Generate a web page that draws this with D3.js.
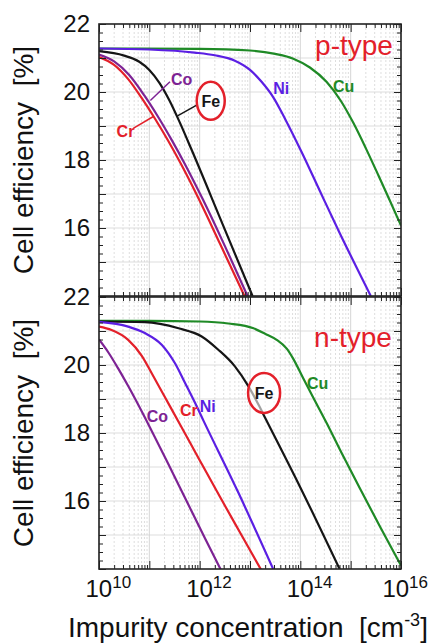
<!DOCTYPE html>
<html>
<head>
<meta charset="utf-8">
<script src="https://cdn.jsdelivr.net/npm/d3@7"></script>
<style>
  body { margin: 0; background: #fff; }
  text { font-family: "Liberation Sans", Arial, sans-serif; }
</style>
</head>
<body>
<div id="chart"></div>
<script>
// curve data: [log10 impurity concentration, cell efficiency %]
var pCr = [[10,21.03],[10.3,20.8],[10.58,20.38],[10.85,19.82],[11.11,19.22],[11.38,18.55],[11.64,17.85],[12.0,16.8],[12.4,15.55],[12.89,14.0]];
var pCo = [[10,21.1],[10.3,20.9],[10.6,20.5],[10.9,19.9],[11.17,19.28],[11.44,18.6],[11.7,17.9],[12.06,16.85],[12.46,15.6],[12.95,14.0]];
var pFe = [[10,21.2],[10.5,21.07],[10.8,20.89],[11.0,20.65],[11.2,20.27],[11.4,19.75],[11.6,19.12],[11.84,18.3],[12.42,16.24],[13.05,14.0]];
var pNi = [[10,21.28],[11,21.25],[11.9,21.16],[12.3,21.08],[12.7,20.92],[13.0,20.65],[13.23,20.3],[13.46,19.85],[13.7,19.2],[14.03,18.22],[14.4,17.05],[14.76,15.92],[15.4,14.0]];
var pCu = [[10,21.28],[12,21.27],[13,21.22],[13.5,21.12],[13.86,20.98],[14.19,20.72],[14.52,20.3],[14.8,19.75],[15.05,19.1],[15.3,18.35],[15.55,17.55],[15.78,16.8],[16,16.07]];

var nCo = [[10,20.75],[10.19,20.36],[10.38,19.9],[10.58,19.38],[10.78,18.83],[11.0,18.2],[11.35,17.17],[11.74,16.0],[12.1,14.92],[12.44,13.92]];
var nCr = [[10,21.13],[10.25,21.03],[10.58,20.74],[10.85,20.27],[11.05,19.75],[11.3,19.08],[11.61,18.25],[12.0,17.2],[12.4,16.13],[12.83,15.0],[13.25,13.9]];
var nNi = [[10,21.27],[10.58,21.13],[10.91,20.94],[11.25,20.59],[11.51,20.05],[11.71,19.47],[11.91,18.88],[12.08,18.35],[12.77,16.24],[13.46,14.0]];
var nFe = [[10,21.28],[10.91,21.26],[11.58,21.08],[12.04,20.84],[12.37,20.45],[12.7,19.96],[12.97,19.37],[13.17,18.83],[13.3,18.45],[14.0,16.4],[14.78,14.0]];
var nCu = [[10,21.3],[11,21.3],[12,21.28],[12.57,21.22],[13.07,21.08],[13.3,20.92],[13.53,20.74],[13.73,20.48],[13.86,20.18],[14.06,19.6],[14.3,18.92],[14.52,18.3],[14.79,17.5],[15.19,16.35],[15.6,15.2],[16,14.1]];

var xTickExps = [10, 12, 14, 16];
var yTickLabels = [16, 18, 20, 22];
var yDomain = [14, 22];
var panelNames = ["p-type", "n-type"];

// colours
var red = "#e3202a", coColor = "#7d2394", niColor = "#5b1fe3", cuColor = "#1f8a26", feColor = "#151515";

var width = 431, height = 643;
var plotLeft = 99, plotRight = 401;

var svg = d3.select("#chart")
  .append("svg")
    .attr("width", width)
    .attr("height", height);

var x = d3.scaleLog().domain([1e10, 1e16]).range([plotLeft, plotRight]);
function isDecade(d) { var l = Math.log10(d); return Math.abs(l - Math.round(l)) < 1e-6; }

var panels = [
  { name: panelNames[0], top: 24, bottom: 296, tag: [15.84, 21.09],
    series: [[pCu, cuColor], [pNi, niColor], [pFe, feColor], [pCo, coColor], [pCr, red]],
    labels: [["Co", 11.43, 20.21, coColor], ["Cr", 10.35, 18.68, red], ["Ni", 13.46, 19.94, niColor], ["Cu", 14.65, 20.0, cuColor]],
    fe: [12.22, 19.74, 14, 19],
    leaders: [[[11.02, 19.75], [11.41, 20.3], coColor], [[11.56, 19.3], [11.95, 19.62], feColor], [[10.68, 18.93], [11.08, 19.28], red]] },
  { name: panelNames[1], top: 297, bottom: 569, tag: [15.82, 20.54],
    series: [[nCu, cuColor], [nFe, feColor], [nNi, niColor], [nCr, red], [nCo, coColor]],
    labels: [["Co", 10.95, 18.33, coColor], ["Cr", 11.61, 18.51, red], ["Ni", 12.0, 18.63, niColor], ["Cu", 14.13, 19.3, cuColor]],
    fe: [13.28, 19.18, 16, 20],
    leaders: [] }
];

panels.forEach(function (p, i) {
  var y = d3.scaleLinear().domain(yDomain).range([p.bottom, p.top]);
  var g = svg.append("g");

  // grid
  g.append("g").selectAll("line")
    .data(x.ticks())
    .enter().append("line")
      .attr("x1", function (d) { return x(d); })
      .attr("x2", function (d) { return x(d); })
      .attr("y1", p.top).attr("y2", p.bottom)
      .attr("stroke", function (d) { return isDecade(d) ? "#cccccc" : "#d6d6d6"; })
      .attr("stroke-width", 0.8)
      .attr("stroke-dasharray", function (d) { return isDecade(d) ? null : "2,2"; });
  g.append("g").selectAll("line")
    .data(d3.range(15, 22, 1))
    .enter().append("line")
      .attr("x1", plotLeft).attr("x2", plotRight)
      .attr("y1", function (d) { return y(d); })
      .attr("y2", function (d) { return y(d); })
      .attr("stroke", "#d4d4d4")
      .attr("stroke-width", 0.8);

  // curves
  var clipId = "clip" + i;
  svg.append("clipPath").attr("id", clipId)
    .append("rect").attr("x", plotLeft).attr("y", p.top)
    .attr("width", plotRight - plotLeft).attr("height", p.bottom - p.top);
  var line = d3.line()
    .x(function (d) { return x(Math.pow(10, d[0])); })
    .y(function (d) { return y(d[1]); })
    .curve(d3.curveMonotoneX);
  g.append("g").attr("clip-path", "url(#" + clipId + ")")
    .selectAll("path")
    .data(p.series)
    .enter().append("path")
      .attr("d", function (d) { return line(d[0]); })
      .attr("fill", "none")
      .attr("stroke", function (d) { return d[1]; })
      .attr("stroke-width", 2.2);

  // ticks, all pointing inward
  var minorX = x.ticks().filter(function (d) { return !isDecade(d); });
  var majorX = x.ticks().filter(isDecade);
  function tickAxis(axis, transform) {
    var a = g.append("g").attr("transform", transform).call(axis);
    a.select(".domain").remove();
    a.selectAll("line").attr("stroke", "#222").attr("stroke-width", 1);
    return a;
  }
  tickAxis(d3.axisBottom(x).tickValues(majorX).tickSize(-8).tickFormat(""), "translate(0," + p.bottom + ")");
  tickAxis(d3.axisBottom(x).tickValues(minorX).tickSize(-4).tickFormat(""), "translate(0," + p.bottom + ")");
  tickAxis(d3.axisTop(x).tickValues(majorX).tickSize(-8).tickFormat(""), "translate(0," + p.top + ")");
  tickAxis(d3.axisTop(x).tickValues(minorX).tickSize(-4).tickFormat(""), "translate(0," + p.top + ")");
  tickAxis(d3.axisLeft(y).tickValues(d3.range(14, 22.01, 1)).tickSize(-7).tickFormat(""), "translate(" + plotLeft + ",0)");
  tickAxis(d3.axisLeft(y).tickValues(d3.range(14, 22.01, 0.25)).tickSize(-4).tickFormat(""), "translate(" + plotLeft + ",0)");
  tickAxis(d3.axisRight(y).tickValues(d3.range(14, 22.01, 1)).tickSize(-7).tickFormat(""), "translate(" + plotRight + ",0)");
  tickAxis(d3.axisRight(y).tickValues(d3.range(14, 22.01, 0.25)).tickSize(-4).tickFormat(""), "translate(" + plotRight + ",0)");

  // y tick labels
  var yl = g.append("g").attr("transform", "translate(" + plotLeft + ",0)")
    .call(d3.axisLeft(y).tickValues(yTickLabels).tickSize(0).tickPadding(9).tickFormat(d3.format("d")));
  yl.select(".domain").remove();
  yl.selectAll("text").attr("font-size", 24).attr("fill", "#111")
    .style("font-family", "'Liberation Sans', Arial, sans-serif");

  // frame
  g.append("rect")
    .attr("x", plotLeft).attr("y", p.top)
    .attr("width", plotRight - plotLeft).attr("height", p.bottom - p.top)
    .attr("fill", "none").attr("stroke", "#222").attr("stroke-width", 1.6);

  // y title
  g.append("text")
    .attr("transform", "translate(33," + ((p.top + p.bottom) / 2) + ") rotate(-90)")
    .attr("text-anchor", "middle")
    .attr("font-size", 28)
    .attr("fill", "#111")
    .text("Cell efficiency \u00a0[%]");

  // panel tag
  g.append("text")
    .attr("x", x(Math.pow(10, p.tag[0]))).attr("y", y(p.tag[1]))
    .attr("text-anchor", "end")
    .attr("font-size", 28)
    .attr("fill", red)
    .text(p.name);

  // leader lines
  g.selectAll(".leader")
    .data(p.leaders)
    .enter().append("line")
      .attr("x1", function (d) { return x(Math.pow(10, d[0][0])); })
      .attr("y1", function (d) { return y(d[0][1]); })
      .attr("x2", function (d) { return x(Math.pow(10, d[1][0])); })
      .attr("y2", function (d) { return y(d[1][1]); })
      .attr("stroke", function (d) { return d[2]; })
      .attr("stroke-width", 1.5);

  // series labels
  g.selectAll(".lbl")
    .data(p.labels)
    .enter().append("text")
      .attr("x", function (d) { return x(Math.pow(10, d[1])); })
      .attr("y", function (d) { return y(d[2]); })
      .attr("font-size", 16)
      .attr("font-weight", "bold")
      .attr("fill", function (d) { return d[3]; })
      .text(function (d) { return d[0]; });

  // Fe in a red ellipse
  var fx = x(Math.pow(10, p.fe[0])), fy = y(p.fe[1]);
  g.append("ellipse")
    .attr("cx", fx).attr("cy", fy).attr("rx", p.fe[2]).attr("ry", p.fe[3])
    .attr("fill", "#fff").attr("fill-opacity", 0.6)
    .attr("stroke", red).attr("stroke-width", 2.5);
  g.append("text")
    .attr("x", fx).attr("y", fy + 6)
    .attr("text-anchor", "middle")
    .attr("font-size", 16)
    .attr("font-weight", "bold")
    .attr("fill", feColor)
    .text("Fe");
});

// x tick labels under the lower panel
xTickExps.forEach(function (e) {
  var t = svg.append("text")
    .attr("y", 597)
    .attr("font-size", 24)
    .attr("fill", "#111");
  t.append("tspan").text("10");
  t.append("tspan").attr("font-size", 17).attr("dy", -9).text(e);
  var w = t.node().getComputedTextLength();
  var tx = x(Math.pow(10, e)) - 13.5;
  if (tx + w > 428) tx = 428 - w;
  t.attr("x", tx);
});

// x title
var xt = svg.append("text")
  .attr("x", 68).attr("y", 637)
  .attr("font-size", 28)
  .attr("fill", "#111");
xt.append("tspan").text("Impurity concentration \u00a0[cm");
xt.append("tspan").attr("font-size", 18).attr("dy", -11).text("-3");
xt.append("tspan").attr("dy", 11).text("]");
</script>
</body>
</html>
